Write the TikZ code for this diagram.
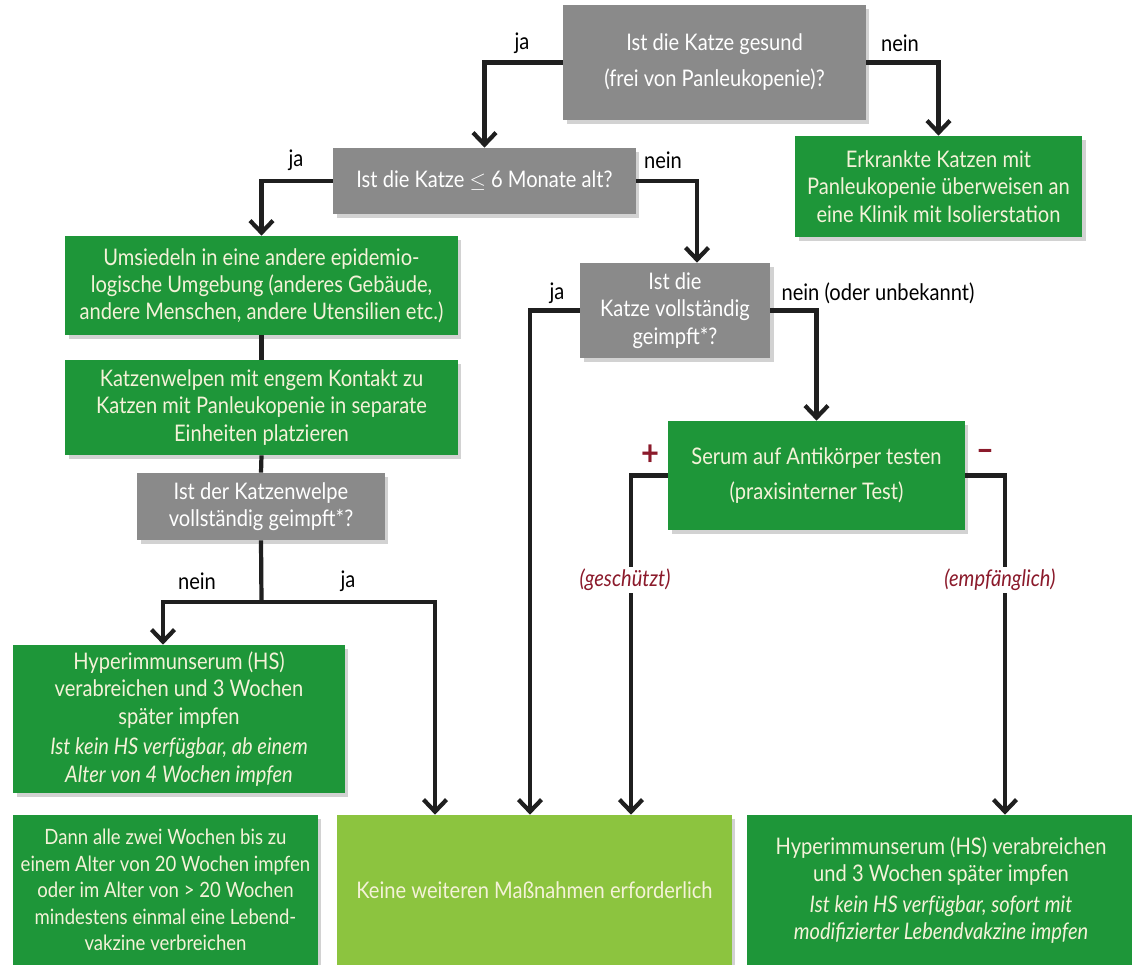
\documentclass[tikz,border=0pt]{standalone}
\usepackage{fontspec}
\setmainfont[FakeStretch=0.88]{Lato}
\usetikzlibrary{arrows.meta,shadows}

\definecolor{boxgrey}{HTML}{8A8A8A}
\definecolor{boxgreen}{HTML}{1E9639}
\definecolor{lightgreen}{HTML}{8CC43F}
\definecolor{labelred}{HTML}{8B1A2B}
\definecolor{boxtext}{HTML}{F4F2D8}

\begin{document}
\begin{tikzpicture}[x=0.02cm, y=-0.02cm,
	every node/.style={font=\fontsize{13}{15.5}\selectfont},
	box/.style={rectangle, align=center, inner sep=2pt, text=boxtext,
		drop shadow={shadow xshift=2pt, shadow yshift=-2pt, opacity=0.35}},
	question/.style={box, fill=boxgrey, text=white},
	action/.style={box, fill=boxgreen},
	final/.style={box, fill=lightgreen},
	line/.style={line width=2.4pt, black!88},
	arrow/.style={line, -{Straight Barb[length=2.4mm,width=4.6mm]}},
	answer/.style={text=black},
	result/.style={text=labelred, fill=white, inner sep=1pt}]

	\fill[white] (0,0) rectangle (1132,964);
	\useasboundingbox (0,0) rectangle (1132,964);

	% questions
	\node[question, minimum width=6.06cm, minimum height=2.3cm] (healthy) at (714.5,62.5) {Ist die Katze gesund\\[5pt](frei von Panleukopenie)?};
	\node[question, minimum width=6.06cm, minimum height=1.32cm] (age) at (484.5,181) {Ist die Katze $\leq$ 6 Monate alt?};
	\node[question, minimum width=3.8cm, minimum height=1.9cm] (vaccinated) at (675,310.5) {Ist die\\Katze vollständig\\geimpft*?};
	\node[question, minimum width=4.96cm, minimum height=1.34cm] (kitten) at (261,506.5) {Ist der Katzenwelpe\\vollständig geimpft*?};

	% actions
	\node[action, minimum width=5.74cm, minimum height=2.02cm] (sick) at (938.5,186.5) {Erkrankte Katzen mit\\Panleukopenie überweisen an\\eine Klinik mit Isolierstation};
	\node[action, minimum width=7.86cm, minimum height=1.98cm] (move) at (261.5,285.5) {Umsiedeln in eine andere epidemio-\\logische Umgebung (anderes Gebäude,\\andere Menschen, andere Utensilien etc.)};
	\node[action, minimum width=7.86cm, minimum height=1.9cm] (separate) at (261.5,407.5) {Katzenwelpen mit engem Kontakt zu\\Katzen mit Panleukopenie in separate\\Einheiten platzieren};
	\node[action, minimum width=5.94cm, minimum height=2.18cm] (serum) at (816.5,475.5) {Serum auf Antikörper testen\\[4pt](praxisinterner Test)};
	\node[action, minimum width=6.64cm, minimum height=2.96cm] (serumkitten) at (179,719) {Hyperimmunserum (HS)\\verabreichen und 3 Wochen\\später impfen\\[2pt]\textit{Ist kein HS verfügbar, ab einem}\\\textit{Alter von 4 Wochen impfen}};
	\node[action, minimum width=6.1cm, minimum height=3.0cm, inner sep=0pt, font=\fontsize{12}{15}\selectfont] (repeat) at (165.5,890) {Dann alle zwei Wochen bis zu\\einem Alter von 20 Wochen impfen\\oder im Alter von > 20 Wochen\\mindestens einmal eine Lebend-\\vakzine verbreichen};
	\node[final, minimum width=7.9cm, minimum height=3.0cm] (none) at (534.5,890) {Keine weiteren Maßnahmen erforderlich};
	\node[action, minimum width=7.76cm, minimum height=3.0cm] (serumcat) at (941,890) {Hyperimmunserum (HS) verabreichen\\und 3 Wochen später impfen\\[2pt]\textit{Ist kein HS verfügbar, sofort mit}\\\textit{modifizierter Lebendvakzine impfen}};

	% connectors
	\draw[arrow] (healthy.west) -| (age.north);
	\draw[arrow] (healthy.east) -| (sick.north);
	\draw[arrow] (age.west) -| (move.north);
	\draw[arrow] (age.east) -| ([xshift=0.44cm]vaccinated.north);
	\draw[arrow] (vaccinated.west) -| ([xshift=-0.09cm]none.north);
	\draw[arrow] (vaccinated.east) -| (serum.north);
	\draw[line] (move.south) -- (separate.north);
	\draw[line] (separate.south) -- (kitten.north);
	\coordinate (split) at (261.5,602);
	\draw[line] (kitten.south) -- (split);
	\draw[arrow] (split) -| ([xshift=-0.32cm]serumkitten.north);
	\draw[arrow] (split) -| ([xshift=-1.99cm]none.north);
	\draw[arrow] (serum.west) -| ([xshift=1.93cm]none.north);
	\draw[arrow] (serum.east) -| ([xshift=1.28cm]serumcat.north);

	% answers
	\node[answer] (ja1) at (522,43) {ja};
	\node[answer] (nein1) at (900,43) {nein};
	\node[answer] (ja2) at (296,160) {ja};
	\node[answer] (nein2) at (663,160) {nein};
	\node[answer] (ja3) at (557,293) {ja};
	\node[answer] (nein3) at (878,293) {nein (oder unbekannt)};
	\node[answer] (nein4) at (197,581) {nein};
	\node[answer] (ja4) at (348,581) {ja};
	\node[text=labelred, font=\fontsize{20}{20}\selectfont\bfseries] (plus) at (650,455) {+};
	\node[text=labelred, font=\fontsize{20}{20}\selectfont\bfseries] (minus) at (985,455) {–};
	\node[result, font=\fontsize{13}{15.5}\selectfont\itshape] (protected) at (625,580) {(geschützt)};
	\node[result, font=\fontsize{13}{15.5}\selectfont\itshape] (susceptible) at (1000,580) {(empfänglich)};
\end{tikzpicture}
\end{document}
